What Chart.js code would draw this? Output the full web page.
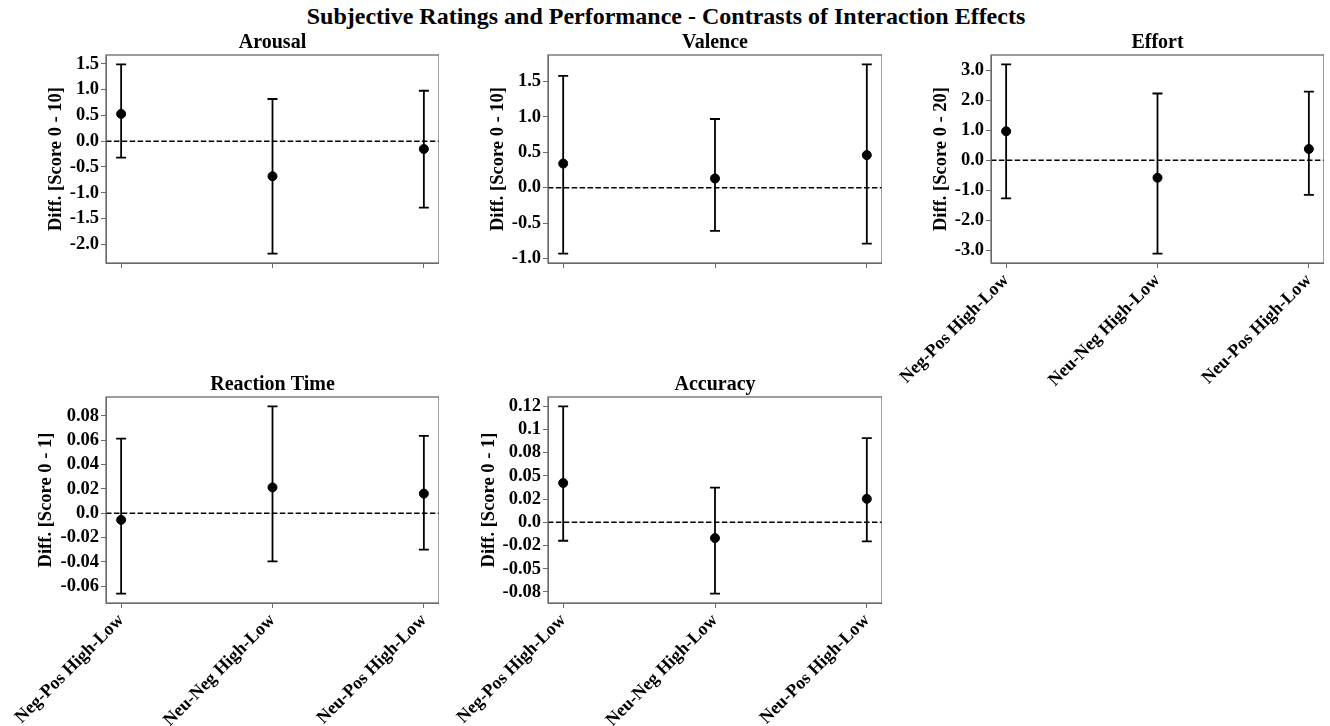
<!DOCTYPE html>
<html>
<head>
<meta charset="utf-8">
<script src="https://cdn.jsdelivr.net/npm/chart.js@4/dist/chart.umd.min.js"></script>
<style>
  body { margin: 0; background: #fff; width: 1330px; height: 726px; position: relative; overflow: hidden; }
  #mainTitle { position: absolute; left: 0; top: 0; width: 1332px; height: 32px; line-height: 32px; text-align: center;
    font-family: 'Liberation Serif', 'Times New Roman', serif; font-weight: bold; font-size: 24px; color: #000; }
  canvas { position: absolute; }
</style>
</head>
<body>
<div id="mainTitle">Subjective Ratings and Performance - Contrasts of Interaction Effects</div>
<canvas id="c0"></canvas>
<canvas id="c1"></canvas>
<canvas id="c2"></canvas>
<canvas id="c3"></canvas>
<canvas id="c4"></canvas>
<script>
// categories on the x axis
const contrasts = ["Neg-Pos High-Low", "Neu-Neg High-Low", "Neu-Pos High-Low"];

// estimated means and CI limits
const arousalMean = [0.53, -0.68, -0.15];
const arousalLow = [-0.32, -2.18, -1.29];
const arousalHigh = [1.49, 0.82, 0.98];

const valenceMean = [0.34, 0.13, 0.46];
const valenceLow = [-0.93, -0.61, -0.79];
const valenceHigh = [1.58, 0.97, 1.74];

const effortMean = [0.97, -0.58, 0.38];
const effortLow = [-1.27, -3.11, -1.15];
const effortHigh = [3.2, 2.23, 2.29];

const rtMean = [-0.0054, 0.0213, 0.0162];
const rtLow = [-0.066, -0.0395, -0.0298];
const rtHigh = [0.0614, 0.0879, 0.0636];

const accMean = [0.0422, -0.017, 0.0252];
const accLow = [-0.0199, -0.0768, -0.0205];
const accHigh = [0.1247, 0.0372, 0.0906];

// y ticks and their labels
const arousalTicks = [-2, -1.5, -1, -0.5, 0, 0.5, 1, 1.5];
const arousalTickLabels = ["-2.0", "-1.5", "-1.0", "-0.5", "0.0", "0.5", "1.0", "1.5"];
const valenceTicks = [-1, -0.5, 0, 0.5, 1, 1.5];
const valenceTickLabels = ["-1.0", "-0.5", "0.0", "0.5", "1.0", "1.5"];
const effortTicks = [-3, -2, -1, 0, 1, 2, 3];
const effortTickLabels = ["-3.0", "-2.0", "-1.0", "0.0", "1.0", "2.0", "3.0"];
const rtTicks = [-0.06, -0.04, -0.02, 0, 0.02, 0.04, 0.06, 0.08];
const rtTickLabels = ["-0.06", "-0.04", "-0.02", "0.0", "0.02", "0.04", "0.06", "0.08"];
const accTicks = [-0.075, -0.05, -0.025, 0, 0.025, 0.05, 0.075, 0.1, 0.125];
const accTickLabels = ["-0.08", "-0.05", "-0.02", "0.0", "0.02", "0.05", "0.08", "0.1", "0.12"];

const FONT = "'Liberation Serif', 'Times New Roman', serif";
Chart.defaults.font.family = FONT;
Chart.defaults.font.weight = "bold";
Chart.defaults.color = "#000";

const FRAME = "#6b6b6b";
const TITLE_SIZE = 20, AXIS_TITLE_SIZE = 18.5, TICK_SIZE = 18.5, XTICK_SIZE = 18;

// panel layout (pixels in the page)
const panels = [
  { title: "Arousal", yLabel: "Diff. [Score 0 - 10]", mean: arousalMean, low: arousalLow, high: arousalHigh,
    ticks: arousalTicks, tickLabels: arousalTickLabels, showX: false,
    left: 0, top: 28, right: 439, bottom: 275, plotLeft: 106, plotTop: 55, plotBottom: 263, yTitleX: 56 },
  { title: "Valence", yLabel: "Diff. [Score 0 - 10]", mean: valenceMean, low: valenceLow, high: valenceHigh,
    ticks: valenceTicks, tickLabels: valenceTickLabels, showX: false,
    left: 442, top: 28, right: 882, bottom: 275, plotLeft: 548, plotTop: 55, plotBottom: 263, yTitleX: 498 },
  { title: "Effort", yLabel: "Diff. [Score 0 - 20]", mean: effortMean, low: effortLow, high: effortHigh,
    ticks: effortTicks, tickLabels: effortTickLabels, showX: true,
    left: 885, top: 28, right: 1324, bottom: 395, plotLeft: 991, plotTop: 55, plotBottom: 263, yTitleX: 941 },
  { title: "Reaction Time", yLabel: "Diff. [Score 0 - 1]", mean: rtMean, low: rtLow, high: rtHigh,
    ticks: rtTicks, tickLabels: rtTickLabels, showX: true,
    left: 0, top: 370, right: 439, bottom: 726, plotLeft: 106, plotTop: 397, plotBottom: 603, yTitleX: 46 },
  { title: "Accuracy", yLabel: "Diff. [Score 0 - 1]", mean: accMean, low: accLow, high: accHigh,
    ticks: accTicks, tickLabels: accTickLabels, showX: true,
    left: 442, top: 370, right: 882, bottom: 726, plotLeft: 548, plotTop: 397, plotBottom: 603, yTitleX: 489 }
];

// error bars, zero line and frame
const errorBars = {
  id: "errorBars",
  beforeDatasetsDraw(chart) {
    const { ctx, chartArea: a, scales: { x, y } } = chart;
    const ds = chart.data.datasets[0];
    ctx.save();
    const y0 = y.getPixelForValue(0);
    ctx.strokeStyle = "#000";
    ctx.lineWidth = 1.5;
    ctx.setLineDash([5.5, 2.4]);
    ctx.beginPath();
    ctx.moveTo(a.left, y0);
    ctx.lineTo(a.right, y0);
    ctx.stroke();
    ctx.setLineDash([]);
    ctx.lineWidth = 1.8;
    ds.data.forEach((p, i) => {
      const px = x.getPixelForValue(p.x);
      const lo = y.getPixelForValue(ds.low[i]);
      const hi = y.getPixelForValue(ds.high[i]);
      ctx.beginPath();
      ctx.moveTo(px, lo); ctx.lineTo(px, hi);
      ctx.moveTo(px - 5, lo); ctx.lineTo(px + 5, lo);
      ctx.moveTo(px - 5, hi); ctx.lineTo(px + 5, hi);
      ctx.stroke();
    });
    ctx.restore();
  },
  afterDraw(chart) {
    const { ctx, chartArea: a } = chart;
    ctx.save();
    ctx.strokeStyle = FRAME;
    ctx.lineWidth = 1.3;
    ctx.strokeRect(a.left, a.top, a.right - a.left, a.bottom - a.top);
    ctx.restore();
  }
};

panels.forEach((p, k) => {
  const cv = document.getElementById("c" + k);
  cv.width = p.right - p.left;
  cv.height = p.bottom - p.top;
  cv.style.left = p.left + "px";
  cv.style.top = p.top + "px";

  const lo = Math.min(...p.low), hi = Math.max(...p.high);
  const pad = (hi - lo) * 0.05;
  const titleLH = TITLE_SIZE * 1.2;
  const axisLH = AXIS_TITLE_SIZE * 1.2;

  new Chart(cv, {
    type: "scatter",
    data: {
      datasets: [{
        data: p.mean.map((m, i) => ({ x: i, y: m })),
        low: p.low,
        high: p.high,
        backgroundColor: "#000",
        borderColor: "#000",
        pointRadius: 4.5,
        pointHoverRadius: 4.5
      }]
    },
    options: {
      responsive: false,
      animation: false,
      events: [],
      layout: { padding: 0, autoPadding: false },
      plugins: {
        legend: { display: false },
        tooltip: { enabled: false },
        title: {
          display: true,
          text: p.title,
          fullSize: false,
          font: { size: TITLE_SIZE, weight: "bold" },
          color: "#000",
          padding: { top: p.plotTop - p.top - titleLH, bottom: 0 }
        }
      },
      scales: {
        x: {
          type: "linear",
          min: -0.1,
          max: 2.1,
          afterBuildTicks: (s) => { s.ticks = contrasts.map((c, i) => ({ value: i })); },
          afterFit: (s) => { s.height = p.bottom - p.plotBottom; s.paddingLeft = 0; s.paddingRight = 0; },
          ticks: {
            display: p.showX,
            autoSkip: false,
            minRotation: 45,
            maxRotation: 45,
            padding: 2,
            font: { size: XTICK_SIZE, weight: "bold" },
            color: "#000",
            callback: (v) => contrasts[v]
          },
          grid: { drawOnChartArea: false, drawTicks: true, tickLength: 5, color: FRAME },
          border: { display: true, color: FRAME }
        },
        y: {
          min: lo - pad,
          max: hi + pad,
          afterBuildTicks: (s) => { s.ticks = p.ticks.map((v) => ({ value: v })); },
          afterFit: (s) => { s.width = p.plotLeft - p.left; s.paddingTop = 0; s.paddingBottom = 0; },
          ticks: {
            autoSkip: false,
            padding: 2,
            font: { size: TICK_SIZE, weight: "bold" },
            color: "#000",
            callback: (v, i) => p.tickLabels[i]
          },
          grid: { drawOnChartArea: false, drawTicks: true, tickLength: 5, color: FRAME },
          border: { display: true, color: FRAME },
          title: {
            display: true,
            text: p.yLabel,
            font: { size: AXIS_TITLE_SIZE, weight: "bold" },
            color: "#000",
            padding: { top: p.yTitleX - p.left - axisLH / 2, bottom: 0 }
          }
        }
      }
    },
    plugins: [errorBars]
  });
});
</script>
</body>
</html>
